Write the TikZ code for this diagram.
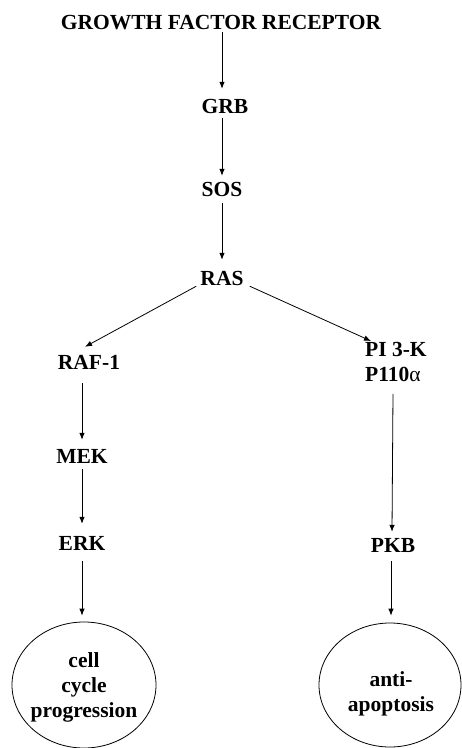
\documentclass[tikz,border=0pt]{standalone}
\usepackage{fontspec}
\setmainfont{Liberation Serif}
\usetikzlibrary{arrows.meta,shapes.geometric}
\begin{document}
\begin{tikzpicture}[x=1pt,y=-1pt,
  lbl/.style={font=\bfseries\fontsize{21.5}{25}\selectfont, inner sep=0pt, text height=14pt, text depth=0pt},
  multi/.style={font=\bfseries\fontsize{21.5}{25}\selectfont, inner sep=0pt},
  endpt/.style={draw, ellipse, line width=0.8pt, inner sep=0pt},
  endtext/.style={font=\bfseries\fontsize{21.5}{25}\selectfont, inner sep=0pt, align=center},
  arr/.style={-{Latex[length=7pt,width=5.5pt]}, line width=0.8pt}]
\useasboundingbox (0,0) rectangle (462,748);
\node[lbl] (gfr) at (221,22) {GROWTH FACTOR RECEPTOR};
\node[lbl] (grb) at (225,106) {GRB};
\node[lbl] (sos) at (222,189) {SOS};
\node[lbl] (ras) at (222,278) {RAS};
\node[lbl] (raf) at (89,362) {RAF-1};
\node[multi, align=left, anchor=north west] (pi3k) at (365,342) {PI 3-K\\P110{\mdseries α}};
\node[lbl] (mek) at (82,456) {MEK};
\node[lbl] (erk) at (82,543) {ERK};
\node[lbl] (pkb) at (393,545) {PKB};
\node[endpt, minimum width=144pt, minimum height=126pt] (cell) at (84,685) {};
\node[endtext] (celltext) at (84,687) {cell\\cycle\\progression};
\node[endpt, minimum width=142pt, minimum height=124pt] (anti) at (390,685) {};
\node[endtext] (antitext) at (391,694) {anti-\\apoptosis};
\draw[arr] ([xshift=1pt,yshift=-3pt]gfr.south) -- ([xshift=-3pt,yshift=10pt]grb.north);
\draw[arr] ([xshift=-3pt,yshift=-5pt]grb.south) -- ([yshift=6pt]sos.north);
\draw[arr] ([yshift=-7pt]sos.south) -- ([yshift=11pt]ras.north);
\draw[arr] ([xshift=-4pt,yshift=-1pt]ras.south west) -- ([xshift=-4pt,yshift=8pt]raf.north);
\draw[arr] ([xshift=6pt,yshift=-1pt]ras.south east) -- ([xshift=6pt,yshift=1pt]pi3k.north west);
\draw[arr] ([xshift=-7pt,yshift=-14pt]raf.south) -- ([yshift=9pt]mek.north);
\draw[arr] ([yshift=-6pt]mek.south) -- ([yshift=12pt]erk.north);
\draw[arr] ([yshift=-11pt]erk.south) -- ([yshift=6pt]cell.north -| erk.south);
\draw[arr] ([xshift=28pt,yshift=-12pt]pi3k.south west) -- ([xshift=-1pt,yshift=6pt]pkb.north);
\draw[arr] ([xshift=-2pt,yshift=-9pt]pkb.south) -- ([xshift=1pt,yshift=7pt]anti.north);
\end{tikzpicture}
\end{document}
